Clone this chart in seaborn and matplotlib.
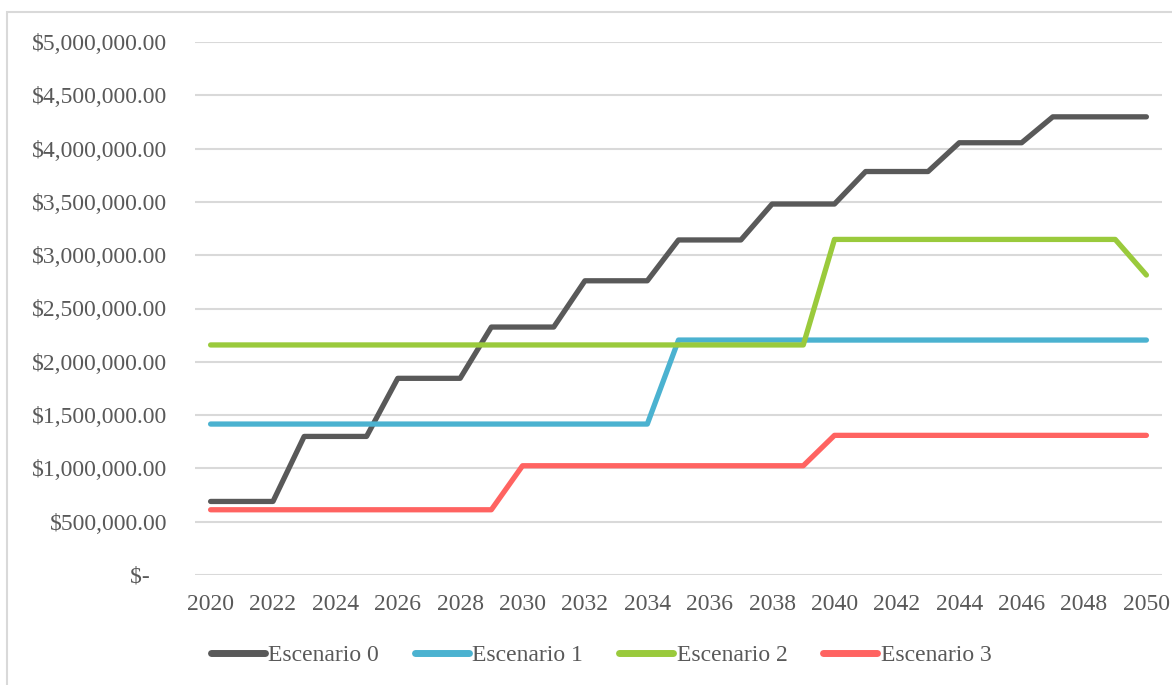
import matplotlib
matplotlib.use("Agg")
import matplotlib.pyplot as plt
from matplotlib.patches import Rectangle
from matplotlib.ticker import FuncFormatter
import seaborn as sns
import pandas as pd

years = list(range(2020, 2051))

esc0 = [690000, 690000, 690000, 1300000, 1300000, 1300000, 1845000, 1845000,
        1845000, 2326000, 2326000, 2326000, 2760000, 2760000, 2760000, 3143000,
        3143000, 3143000, 3480000, 3480000, 3480000, 3785000, 3785000, 3785000,
        4055000, 4055000, 4055000, 4298000, 4298000, 4298000, 4298000]
esc1 = [1416000, 1416000, 1416000, 1416000, 1416000, 1416000, 1416000, 1416000,
        1416000, 1416000, 1416000, 1416000, 1416000, 1416000, 1416000, 2204000,
        2204000, 2204000, 2204000, 2204000, 2204000, 2204000, 2204000, 2204000,
        2204000, 2204000, 2204000, 2204000, 2204000, 2204000, 2204000]
esc2 = [2158000, 2158000, 2158000, 2158000, 2158000, 2158000, 2158000, 2158000,
        2158000, 2158000, 2158000, 2158000, 2158000, 2158000, 2158000, 2158000,
        2158000, 2158000, 2158000, 2158000, 3148000, 3148000, 3148000, 3148000,
        3148000, 3148000, 3148000, 3148000, 3148000, 3148000, 2814000]
esc3 = [612000, 612000, 612000, 612000, 612000, 612000, 612000, 612000,
        612000, 612000, 1025000, 1025000, 1025000, 1025000, 1025000, 1025000,
        1025000, 1025000, 1025000, 1025000, 1310000, 1310000, 1310000, 1310000,
        1310000, 1310000, 1310000, 1310000, 1310000, 1310000, 1310000]

names = ["Escenario 0", "Escenario 1", "Escenario 2", "Escenario 3"]
colors = ["#595959", "#4BB2D0", "#9ACA3C", "#FF6361"]

df = pd.concat([
    pd.DataFrame({"year": years, "value": v, "serie": n})
    for n, v in zip(names, [esc0, esc1, esc2, esc3])
])

sns.set_style("white")
plt.rcParams["font.family"] = ["Liberation Serif", "DejaVu Serif"]
txt = "#595959"

fig = plt.figure(figsize=(11.72, 6.85), dpi=100)
ax = fig.add_axes([195 / 1172, 1 - 575 / 685, 967 / 1172, 533 / 685])

# chart area border (Excel style)
fig.patches.append(Rectangle((7 / 1172, -0.05), 1.1, 1 - 12 / 685 + 0.05,
                             transform=fig.transFigure, fill=False,
                             edgecolor="#D9D9D9", lw=1.5))

sns.lineplot(data=df, x="year", y="value", hue="serie", palette=colors,
             linewidth=3.8, ax=ax, legend=False, sort=False)
for ln in ax.get_lines():
    ln.set_solid_capstyle("round")
    ln.set_solid_joinstyle("round")

ax.set_xlim(2019.5, 2050.5)
ax.set_ylim(0, 5000000)
ax.set_xticks(years[::2])
ax.set_yticks(range(0, 5000001, 500000))


def money(v, pos):
    if v == 0:
        return "$-   "
    return f"${v:,.2f}"


ax.yaxis.set_major_formatter(FuncFormatter(money))
ax.grid(axis="y", color="#D9D9D9", lw=1.5)
ax.grid(axis="x", visible=False)
ax.set_axisbelow(True)
for s in ax.spines.values():
    s.set_visible(False)
ax.tick_params(axis="y", length=0, pad=20, labelsize=17, labelcolor=txt)
ax.tick_params(axis="x", length=0, pad=14, labelsize=17, labelcolor=txt)
ax.set_xlabel("")
ax.set_ylabel("")

handles = [plt.Line2D([], [], color=c, lw=5, solid_capstyle="round") for c in colors]
fig.legend(handles, names, loc="center", bbox_to_anchor=(601 / 1172, 1 - 655 / 685),
           ncol=4, frameon=False, fontsize=17, labelcolor=txt,
           handlelength=2.3, handletextpad=0.15, columnspacing=1.5)

fig.savefig("out.png", dpi=100)
